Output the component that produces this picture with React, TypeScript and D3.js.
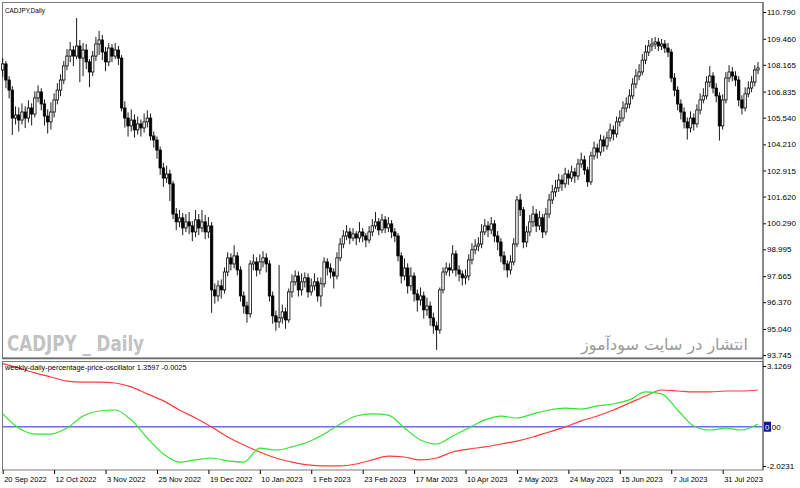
import { useEffect, useRef } from "react";
import * as d3 from "d3";

// daily CADJPY bars
const opens = [
  107.91, 108.21, 107.41, 106.91, 105.52, 105.67, 105.42, 105.82, 105.52, 106.02,
  105.72, 106.52, 106.82, 106.22, 105.62, 105.33, 105.82, 106.42, 106.91, 107.41,
  108.11, 108.60, 108.90, 108.60, 109.10, 108.50, 108.90, 108.31, 107.81, 108.60,
  109.20, 109.40, 108.80, 108.31, 109.00, 108.60, 108.90, 108.50, 106.02, 105.52,
  105.13, 105.42, 104.93, 105.23, 105.03, 105.33, 105.52, 104.63, 104.43, 103.93,
  103.04, 102.54, 102.74, 102.25, 100.75, 100.36, 100.56, 100.06, 100.36, 100.16,
  99.86, 100.46, 100.06, 100.36, 99.86, 100.16, 96.98, 96.68, 97.18, 96.98,
  97.87, 98.57, 98.27, 98.67, 97.97, 96.68, 96.18, 95.79, 98.27, 98.37,
  97.97, 98.37, 98.57, 98.27, 96.68, 95.69, 95.39, 95.59, 95.89, 95.49,
  96.88, 97.38, 97.67, 96.98, 97.38, 97.58, 96.88, 97.18, 97.38, 96.68,
  97.28, 98.37, 98.07, 97.87, 97.67, 98.57, 99.26, 99.66, 99.86, 99.56,
  99.76, 99.56, 99.86, 99.66, 99.46, 99.86, 100.16, 100.36, 99.96, 100.46,
  100.06, 100.26, 99.86, 99.66, 98.67, 97.67, 98.07, 97.18, 97.67, 96.78,
  96.48, 96.68, 95.99, 96.18, 95.59, 95.19, 94.99, 96.98, 97.87, 98.07,
  97.97, 98.77, 97.97, 97.77, 97.58, 97.67, 98.47, 98.97, 99.16, 99.26,
  99.86, 100.16, 99.96, 100.26, 99.66, 99.36, 98.67, 98.27, 97.97, 98.37,
  99.26, 101.45, 100.96, 99.36, 99.86, 100.36, 100.75, 100.16, 100.56, 99.86,
  100.75, 101.45, 101.85, 102.05, 102.44, 102.25, 102.74, 102.54, 102.84, 102.64,
  103.24, 103.44, 102.94, 102.35, 103.64, 104.03, 103.83, 104.43, 104.13, 104.53,
  104.93, 104.73, 105.33, 105.52, 106.02, 106.22, 106.62, 107.21, 107.61, 107.81,
  108.40, 108.80, 109.10, 109.20, 109.30, 109.10, 109.20, 109.00, 108.80, 107.51,
  106.91, 106.22, 105.82, 105.33, 105.03, 105.52, 105.23, 105.92, 106.42, 106.62,
  107.31, 107.61, 107.01, 106.62, 105.13, 106.42, 107.51, 107.81, 107.61, 107.41,
  106.42, 106.02, 106.72, 107.01, 107.31, 107.91,
];
const highs = [
  108.50, 108.35, 107.60, 107.10, 106.10, 106.05, 106.25, 106.10, 106.40, 106.25,
  106.85, 107.15, 107.00, 106.45, 105.95, 106.30, 106.75, 107.25, 107.70, 108.35,
  108.95, 109.30, 109.10, 110.49, 109.40, 109.25, 109.20, 108.45, 108.85, 109.55,
  109.85, 109.65, 109.05, 109.25, 109.20, 109.25, 109.10, 108.65, 106.35, 105.80,
  105.95, 105.70, 105.60, 105.45, 105.75, 105.90, 105.75, 104.85, 104.60, 104.10,
  103.30, 103.15, 102.95, 102.40, 101.05, 100.95, 100.80, 100.75, 100.85, 100.40,
  100.95, 100.75, 100.95, 100.70, 100.60, 100.35, 97.30, 97.45, 97.50, 98.10,
  98.85, 98.80, 99.20, 98.85, 98.15, 96.90, 96.40, 98.45, 98.75, 98.60,
  98.75, 98.90, 98.80, 98.45, 96.90, 95.95, 98.22, 96.25, 96.10, 97.05,
  97.75, 97.95, 97.90, 97.80, 97.85, 97.80, 97.55, 97.80, 97.60, 97.60,
  98.60, 98.55, 98.30, 98.05, 98.85, 99.55, 99.95, 100.20, 100.05, 100.05,
  99.90, 100.35, 100.05, 99.80, 100.15, 100.50, 100.85, 100.55, 100.75, 100.65,
  100.60, 100.45, 100.05, 99.80, 98.85, 98.55, 98.30, 98.10, 97.85, 97.00,
  97.10, 96.90, 96.60, 96.40, 95.85, 95.40, 97.10, 98.10, 98.35, 98.30,
  99.20, 98.95, 98.20, 97.95, 98.00, 98.75, 99.30, 99.50, 99.60, 100.25,
  100.50, 100.40, 100.60, 100.45, 99.90, 99.55, 98.90, 98.45, 98.70, 99.55,
  101.65, 101.75, 101.10, 100.15, 100.70, 101.15, 101.00, 100.90, 100.75, 101.05,
  101.75, 102.20, 102.45, 102.75, 102.70, 103.05, 102.95, 103.15, 103.05, 103.50,
  103.80, 103.65, 103.10, 103.85, 104.35, 104.25, 104.70, 104.65, 104.85, 105.25,
  105.15, 105.60, 105.90, 106.35, 106.55, 106.95, 107.50, 107.95, 108.20, 108.70,
  109.15, 109.40, 109.50, 109.55, 109.50, 109.45, 109.40, 109.25, 108.95, 107.75,
  107.10, 106.45, 106.05, 105.55, 105.85, 105.75, 106.20, 106.75, 107.00, 107.60,
  108.10, 107.80, 107.25, 106.80, 106.70, 107.80, 108.15, 108.05, 107.85, 107.60,
  106.65, 107.05, 107.35, 107.60, 108.15, 108.30,
];
const lows = [
  107.55, 107.00, 106.50, 104.68, 105.20, 104.85, 105.20, 105.02, 105.30, 105.15,
  105.55, 106.30, 105.90, 105.15, 104.75, 104.95, 105.55, 106.20, 106.60, 107.20,
  107.90, 108.30, 108.10, 108.45, 107.30, 107.60, 107.95, 107.05, 107.60, 108.35,
  108.65, 108.40, 107.85, 108.10, 108.30, 108.45, 108.15, 105.85, 105.05, 104.60,
  104.85, 104.55, 104.70, 104.60, 104.80, 105.05, 104.40, 104.05, 103.50, 102.70,
  102.10, 102.30, 101.40, 100.50, 99.95, 100.10, 99.70, 99.85, 99.75, 99.40,
  99.60, 99.70, 99.85, 99.50, 99.55, 95.84, 96.30, 96.40, 96.55, 96.80,
  97.65, 97.95, 98.05, 97.70, 96.40, 95.80, 95.35, 95.60, 97.95, 97.65,
  97.75, 98.10, 97.85, 96.40, 95.30, 94.95, 95.10, 95.30, 95.05, 95.35,
  96.60, 97.20, 96.65, 96.70, 97.10, 96.60, 96.70, 96.95, 96.40, 96.15,
  97.10, 97.70, 97.55, 97.05, 97.50, 98.40, 99.05, 99.45, 99.25, 99.40,
  99.20, 99.35, 99.35, 99.10, 99.30, 99.65, 100.00, 99.70, 99.80, 99.80,
  99.85, 99.55, 99.35, 98.40, 97.30, 97.45, 96.80, 96.95, 96.40, 95.90,
  96.20, 95.55, 95.70, 95.20, 94.80, 94.00, 94.80, 96.80, 97.70, 97.65,
  97.80, 97.65, 97.40, 97.20, 97.25, 97.45, 98.25, 98.75, 98.90, 99.05,
  99.70, 99.60, 99.75, 99.35, 98.95, 98.35, 97.95, 97.60, 97.75, 98.20,
  99.10, 100.65, 99.05, 99.10, 99.65, 100.10, 99.85, 99.95, 99.55, 99.70,
  100.55, 101.25, 101.60, 101.85, 101.90, 102.05, 102.20, 102.35, 102.30, 102.45,
  103.05, 102.70, 102.10, 102.20, 103.45, 103.50, 103.65, 103.85, 103.95, 104.35,
  104.40, 104.55, 105.10, 105.35, 105.80, 106.00, 106.45, 107.00, 107.40, 107.65,
  108.20, 108.60, 108.85, 108.95, 108.85, 108.90, 108.75, 108.55, 107.30, 106.60,
  105.90, 105.45, 105.00, 104.45, 104.80, 104.90, 105.05, 105.70, 106.25, 106.45,
  107.05, 106.75, 106.30, 104.40, 104.95, 106.25, 107.30, 107.35, 107.10, 106.10,
  105.70, 105.85, 106.55, 106.80, 107.10, 107.70,
];
const closes = [
  108.21, 107.41, 106.91, 105.52, 105.67, 105.42, 105.82, 105.52, 106.02, 105.72,
  106.52, 106.82, 106.22, 105.62, 105.33, 105.82, 106.42, 106.91, 107.41, 108.11,
  108.60, 108.90, 108.60, 109.10, 108.50, 108.90, 108.31, 107.81, 108.60, 109.20,
  109.40, 108.80, 108.31, 109.00, 108.60, 108.90, 108.50, 106.02, 105.52, 105.13,
  105.42, 104.93, 105.23, 105.03, 105.33, 105.52, 104.63, 104.43, 103.93, 103.04,
  102.54, 102.74, 102.25, 100.75, 100.36, 100.56, 100.06, 100.36, 100.16, 99.86,
  100.46, 100.06, 100.36, 99.86, 100.16, 96.98, 96.68, 97.18, 96.98, 97.87,
  98.57, 98.27, 98.67, 97.97, 96.68, 96.18, 95.79, 98.27, 98.37, 97.97,
  98.37, 98.57, 98.27, 96.68, 95.69, 95.39, 95.59, 95.89, 95.49, 96.88,
  97.38, 97.67, 96.98, 97.38, 97.58, 96.88, 97.18, 97.38, 96.68, 97.28,
  98.37, 98.07, 97.87, 97.67, 98.57, 99.26, 99.66, 99.86, 99.56, 99.76,
  99.56, 99.86, 99.66, 99.46, 99.86, 100.16, 100.36, 99.96, 100.46, 100.06,
  100.26, 99.86, 99.66, 98.67, 97.67, 98.07, 97.18, 97.67, 96.78, 96.48,
  96.68, 95.99, 96.18, 95.59, 95.19, 94.99, 96.98, 97.87, 98.07, 97.97,
  98.77, 97.97, 97.77, 97.58, 97.67, 98.47, 98.97, 99.16, 99.26, 99.86,
  100.16, 99.96, 100.26, 99.66, 99.36, 98.67, 98.27, 97.97, 98.37, 99.26,
  101.45, 100.96, 99.36, 99.86, 100.36, 100.75, 100.16, 100.56, 99.86, 100.75,
  101.45, 101.85, 102.05, 102.44, 102.25, 102.74, 102.54, 102.84, 102.64, 103.24,
  103.44, 102.94, 102.35, 103.64, 104.03, 103.83, 104.43, 104.13, 104.53, 104.93,
  104.73, 105.33, 105.52, 106.02, 106.22, 106.62, 107.21, 107.61, 107.81, 108.40,
  108.80, 109.10, 109.20, 109.30, 109.10, 109.20, 109.00, 108.80, 107.51, 106.91,
  106.22, 105.82, 105.33, 105.03, 105.52, 105.23, 105.92, 106.42, 106.62, 107.31,
  107.61, 107.01, 106.62, 105.13, 106.42, 107.51, 107.81, 107.61, 107.41, 106.42,
  106.02, 106.72, 107.01, 107.31, 107.91, 108.01,
];

// oscillator, one reading every 5 bars
const weeklyPpo = [
  3.25, 3.02, 2.77, 2.56, 2.35, 2.30, 2.30, 2.25, 2.05, 1.69,
  1.33, 0.86, 0.45, -0.01, -0.53, -0.94, -1.30, -1.61, -1.82, -1.97,
  -2.02, -2.02, -1.92, -1.71, -1.51, -1.56, -1.71, -1.61, -1.30, -1.15,
  -1.04, -0.89, -0.74, -0.53, -0.27, -0.01, 0.30, 0.55, 0.86, 1.22,
  1.58, 1.89, 1.84, 1.79, 1.79, 1.84, 1.84, 1.89,
];
const dailyPpo = [
  0.66, -0.07, -0.38, -0.38, -0.07, 0.55, 0.81, 0.86, 0.35, -0.58,
  -1.40, -1.82, -1.71, -1.61, -1.76, -1.82, -1.10, -1.20, -1.04, -0.79,
  -0.38, 0.14, 0.55, 0.66, 0.60, -0.07, -0.68, -0.89, -0.48, -0.07,
  0.35, 0.55, 0.45, 0.66, 0.86, 0.96, 0.91, 1.07, 1.17, 1.38,
  1.79, 1.69, 0.86, 0.04, -0.17, -0.07, -0.17, 0.14,
];
const oscStep = 5;

const priceTicks = [110.79, 109.46, 108.165, 106.835, 105.54, 104.21, 102.915, 101.62, 100.29, 98.995, 97.665, 96.37, 95.04, 93.745];
const oscTicks = [3.1269, -2.0231];
const dateLabels = [
  "20 Sep 2022", "12 Oct 2022", "3 Nov 2022", "25 Nov 2022", "19 Dec 2022", "10 Jan 2023", "1 Feb 2023",
  "23 Feb 2023", "17 Mar 2023", "10 Apr 2023", "2 May 2023", "24 May 2023", "15 Jun 2023", "7 Jul 2023", "31 Jul 2023",
];
const dateStep = 16;

const FONT = "'Liberation Sans', Arial, sans-serif";

export default function App() {
  const svgRef = useRef<SVGSVGElement | null>(null);

  useEffect(() => {
    const svg = d3.select(svgRef.current);
    svg.selectAll("*").remove();

    const n = closes.length;
    const x = d3.scaleLinear().domain([0, n - 1]).range([2.7, 758]);
    const y = d3.scaleLinear().domain([93.745, 110.79]).range([355, 12]);
    const yo = d3.scaleLinear().domain([-2.0231, 3.1269]).range([466, 366]);

    svg.append("rect").attr("width", 800).attr("height", 488).attr("fill", "#fff");

    // panel frames
    svg.append("rect").attr("x", 2.5).attr("y", 2.5).attr("width", 760.5).attr("height", 355.5)
      .attr("fill", "none").attr("stroke", "#7a7a7a").attr("stroke-width", 1);
    svg.append("line").attr("x1", 2).attr("x2", 763).attr("y1", 358.5).attr("y2", 358.5)
      .attr("stroke", "#6a6a6a").attr("stroke-width", 1.5);
    svg.append("rect").attr("x", 2.5).attr("y", 361.5).attr("width", 760.5).attr("height", 108.5)
      .attr("fill", "none").attr("stroke", "#7a7a7a").attr("stroke-width", 1);

    // watermarks
    svg.append("text").attr("x", 7).attr("y", 351).text("CADJPY _ Daily")
      .attr("font-family", "'Liberation Sans Narrow', 'DejaVu Sans Condensed', sans-serif")
      .attr("font-weight", "bold").attr("font-size", 22).attr("fill", "#c2c2c2")
      .attr("textLength", 137).attr("lengthAdjust", "spacingAndGlyphs");
    svg.append("text").attr("x", 748).attr("y", 350).attr("text-anchor", "end")
      .attr("font-family", "'DejaVu Sans', sans-serif").attr("font-size", 16).attr("fill", "#9a9a9a")
      .text("انتشار در سایت سودآموز");

    // candles
    const idx = d3.range(n);
    const cg = svg.append("g");
    cg.selectAll("line").data(idx).join("line")
      .attr("x1", i => x(i)).attr("x2", i => x(i))
      .attr("y1", i => y(highs[i])).attr("y2", i => y(lows[i]))
      .attr("stroke", "#000").attr("stroke-width", 0.9);
    cg.selectAll("rect").data(idx).join("rect")
      .attr("x", i => x(i) - 1.2).attr("width", 2.4)
      .attr("y", i => y(Math.max(opens[i], closes[i])))
      .attr("height", i => Math.max(0.8, Math.abs(y(opens[i]) - y(closes[i]))))
      .attr("fill", i => (closes[i] >= opens[i] ? "#fff" : "#000"))
      .attr("stroke", "#000").attr("stroke-width", 0.8);

    // price axis
    const ax = svg.append("g").attr("transform", "translate(763,0)")
      .call(d3.axisRight(y).tickValues(priceTicks).tickSize(3).tickPadding(1).tickFormat(d => (+d).toFixed(3)));
    ax.select(".domain").remove();
    ax.selectAll("line").attr("stroke", "#000");
    ax.selectAll("text").attr("font-family", FONT).attr("font-size", 8).attr("fill", "#000");

    svg.append("line").attr("x1", 763).attr("x2", 763).attr("y1", 2).attr("y2", 470)
      .attr("stroke", "#555").attr("stroke-width", 1);

    // oscillator
    svg.append("line").attr("x1", 3).attr("x2", 763).attr("y1", yo(0)).attr("y2", yo(0))
      .attr("stroke", "#6b6bf5").attr("stroke-width", 1.5);
    const line = d3.line<number>().x((_, k) => x(k * oscStep)).y(d => yo(d)).curve(d3.curveMonotoneX);
    svg.append("path").datum(weeklyPpo).attr("fill", "none").attr("stroke", "#ff3c3c").attr("stroke-width", 1.2).attr("d", line);
    svg.append("path").datum(dailyPpo).attr("fill", "none").attr("stroke", "#33e433").attr("stroke-width", 1.2).attr("d", line);

    const ao = svg.append("g").attr("transform", "translate(763,0)")
      .call(d3.axisRight(yo).tickValues(oscTicks).tickSize(3).tickPadding(1).tickFormat(d => (+d).toFixed(4)));
    ao.select(".domain").remove();
    ao.selectAll("line").attr("stroke", "#000");
    ao.selectAll("text").attr("font-family", FONT).attr("font-size", 8).attr("fill", "#000");

    // zero level marker
    svg.append("rect").attr("x", 764).attr("y", yo(0) - 5).attr("width", 7).attr("height", 10).attr("fill", "#14149a");
    const zt = svg.append("text").attr("x", 765).attr("y", yo(0) + 3).attr("font-family", FONT).attr("font-size", 8);
    zt.append("tspan").attr("fill", "#fff").text("0");
    zt.append("tspan").attr("fill", "#000").text(".00");

    // date axis
    const dateIdx = dateLabels.map((_, k) => k * dateStep);
    const bx = svg.append("g").attr("transform", "translate(0,470)")
      .call(d3.axisBottom(x).tickValues(dateIdx).tickSize(4).tickPadding(3).tickFormat((_, k) => dateLabels[k]));
    bx.select(".domain").remove();
    bx.selectAll("line").attr("stroke", "#000");
    bx.selectAll("text").attr("font-family", FONT).attr("font-size", 7.5).attr("fill", "#000")
      .attr("text-anchor", "start").attr("x", 1);

    // labels
    svg.append("text").attr("x", 5).attr("y", 13).attr("font-family", FONT).attr("font-size", 6.3).attr("fill", "#000")
      .text("CADJPY,Daily");
    svg.append("text").attr("x", 5).attr("y", 370).attr("font-family", FONT).attr("font-size", 7.4).attr("fill", "#000")
      .text("weekly-daily-percentage-price-oscillator 1.3597 -0.0025");
  }, []);

  return (
    <svg ref={svgRef} width={800} height={488} style={{ position: "absolute", left: 0, top: 0, display: "block" }} />
  );
}
